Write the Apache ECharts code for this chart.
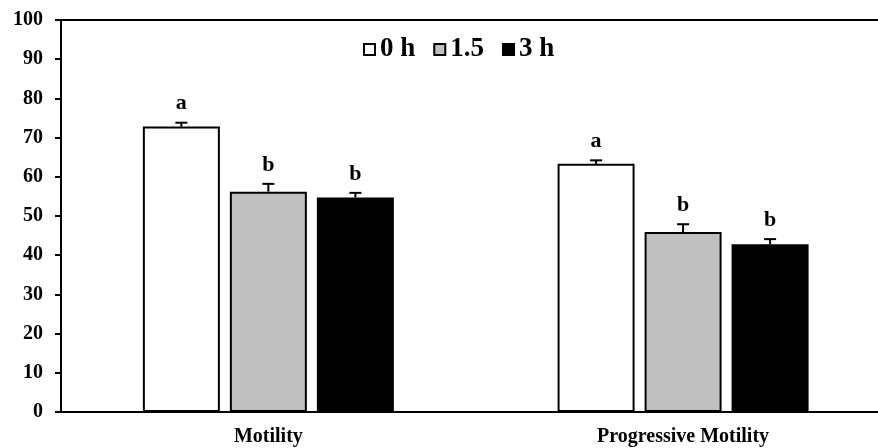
<!DOCTYPE html>
<html>
<head>
<meta charset="utf-8">
<script src="https://cdn.jsdelivr.net/npm/echarts@6/dist/echarts.min.js"></script>
<style>
    html, body { margin: 0; padding: 0; background: #fff; }
    #chart { width: 878px; height: 448px; }
</style>
</head>
<body>
<div id="chart"></div>
<script>
    // data
    var categories = ['Motility', 'Progressive Motility'];
    var seriesNames = ['0 h', '1.5', '3 h'];
    var hour0 = [72.8, 63.3];
    var hour15 = [56.2, 45.9];
    var hour3 = [54.7, 42.8];
    var err0 = [1.0, 0.9];
    var err15 = [2.0, 2.0];
    var err3 = [1.2, 1.3];
    var letters0 = ['a', 'a'];
    var letters15 = ['b', 'b'];
    var letters3 = ['b', 'b'];
    var yTicks = [0, 10, 20, 30, 40, 50, 60, 70, 80, 90, 100];

    var font = '"Liberation Serif", "Times New Roman", serif';
    var barW = 77;
    var gap = 10;
    // the original plot is cut off on the right, so the x range runs a bit short of the 2nd band end
    var xMin = -0.5;
    var xMax = 1.47;

    var barData = function (vals) {
        return vals.map(function (v, i) { return [i, v]; });
    };
    var errData = function (vals, errs, letters) {
        return vals.map(function (v, i) { return [i, v, errs[i], letters[i]]; });
    };

    // error bar (upper half only) with significance letter above
    var errRender = function (shift) {
        return function (params, api) {
            var c = api.coord([api.value(0), api.value(1)]);
            var t = api.coord([api.value(0), api.value(1) + api.value(2)]);
            var x = c[0] + shift;
            return {
                type: 'group',
                children: [
                    { type: 'line', shape: { x1: x, y1: c[1], x2: x, y2: t[1] }, style: { stroke: '#000', lineWidth: 2 } },
                    { type: 'line', shape: { x1: x - 6, y1: t[1], x2: x + 6, y2: t[1] }, style: { stroke: '#000', lineWidth: 2 } },
                    { type: 'text', x: x, y: t[1] - 8, style: {
                        text: api.value(3), fill: '#000', font: 'bold 22px ' + font,
                        align: 'center', verticalAlign: 'bottom'
                    } }
                ]
            };
        };
    };

    var barStyle = function (color) {
        return { color: color, borderColor: '#000', borderWidth: 2 };
    };

    var option = {
        animation: false,
        backgroundColor: '#fff',
        textStyle: { fontFamily: font },
        grid: { left: 61, right: 0, top: 20, bottom: 36 },
        legend: {
            data: seriesNames,
            left: 358,
            top: 31,
            icon: 'rect',
            itemWidth: 11,
            itemHeight: 11,
            itemGap: 18,
            textStyle: { fontFamily: font, fontWeight: 'bold', fontSize: 27, color: '#000' }
        },
        xAxis: [
            {
                type: 'value',
                min: xMin,
                max: xMax,
                axisLine: { onZero: false, lineStyle: { color: '#000', width: 2 } },
                axisTick: { show: false },
                splitLine: { show: false },
                axisLabel: {
                    customValues: [0, 1],
                    formatter: function (v) { return categories[Math.round(v)]; },
                    color: '#000', fontFamily: font, fontWeight: 'bold', fontSize: 20, margin: 15
                }
            },
            {
                type: 'value',
                min: xMin,
                max: xMax,
                position: 'top',
                axisLine: { show: true, onZero: false, lineStyle: { color: '#000', width: 2 } },
                axisTick: { show: false },
                splitLine: { show: false },
                axisLabel: { show: false }
            }
        ],
        yAxis: {
            type: 'value',
            min: yTicks[0],
            max: yTicks[yTicks.length - 1],
            interval: 10,
            axisLine: { show: true, onZero: false, lineStyle: { color: '#000', width: 2 } },
            axisTick: { show: true, length: 6, lineStyle: { color: '#000', width: 2 } },
            axisLabel: { color: '#000', fontFamily: font, fontWeight: 'bold', fontSize: 20, margin: 18 },
            splitLine: { show: false }
        },
        series: [
            { name: seriesNames[0], type: 'bar', data: barData(hour0), barWidth: barW, barGap: (gap / barW * 100) + '%', itemStyle: barStyle('#ffffff') },
            { name: seriesNames[1], type: 'bar', data: barData(hour15), barWidth: barW, barGap: (gap / barW * 100) + '%', itemStyle: barStyle('#c0c0c0') },
            { name: seriesNames[2], type: 'bar', data: barData(hour3), barWidth: barW, barGap: (gap / barW * 100) + '%', itemStyle: barStyle('#000000') },
            { type: 'custom', data: errData(hour0, err0, letters0), renderItem: errRender(-(barW + gap)), encode: { x: 0, y: 1 }, z: 5, silent: true },
            { type: 'custom', data: errData(hour15, err15, letters15), renderItem: errRender(0), encode: { x: 0, y: 1 }, z: 5, silent: true },
            { type: 'custom', data: errData(hour3, err3, letters3), renderItem: errRender(barW + gap), encode: { x: 0, y: 1 }, z: 5, silent: true }
        ]
    };

    var chart = echarts.init(document.getElementById('chart'));
    chart.setOption(option);
</script>
</body>
</html>
